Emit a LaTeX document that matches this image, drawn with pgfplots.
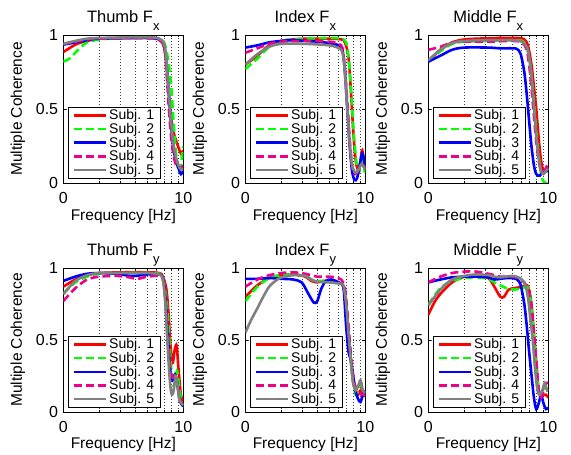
\documentclass[border=0pt]{standalone}
\usepackage{fontspec}
\setmainfont{Liberation Sans}
\usepackage{pgfplots}
\pgfplotsset{compat=1.18}

\newcommand{\sub}[1]{\raisebox{-7.5pt}{\fontsize{13}{13}\selectfont #1}}
\newcommand{\legsize}{\fontsize{14}{14}\selectfont}
\newcommand{\subjlegend}{\legend{{\legsize Subj. 1},{\legsize Subj. 2},{\legsize Subj. 3},{\legsize Subj. 4},{\legsize Subj. 5}}}

\pgfplotsset{
  mcpanel/.style={
    scale only axis, width=120pt,
    xmin=1, xmax=10, ymin=0, ymax=1,
    xtick={1,10}, xticklabels={0,10}, minor xtick={2,3,4,5,6,7,8,9},
    ytick={0,0.5,1}, yticklabels={0,0.5,1},
    xminorgrids=true, ymajorgrids=true, xmajorgrids=false,
    minor grid style={black!75, line width=0.5pt, dash pattern=on 0.6pt off 2.4pt},
    major grid style={black!75, line width=0.5pt, dash pattern=on 0.6pt off 2.4pt},
    tick align=inside, major tick length=3pt, minor tick length=2pt,
    every tick/.style={black, line width=0.5pt},
    axis line style={black, line width=0.7pt},
    /pgf/number format/assume math mode=true,
    tick label style={font=\fontsize{16}{16}\selectfont},
    xticklabel style={anchor=north, inner sep=0pt, yshift=-9pt},
    yticklabel style={anchor=east, inner sep=0pt, xshift=-5pt},
    xlabel={Frequency [Hz]}, ylabel={Multiple Coherence},
    every axis x label/.style={at={(axis description cs:0.5,-0.228)}, anchor=center, font=\fontsize{15.5}{16}\selectfont},
    every axis y label/.style={at={(axis description cs:-0.379,0.5)}, rotate=90, anchor=center, font=\fontsize{15.5}{16}\selectfont},
    every axis title/.style={at={(axis description cs:0.5,1)}, anchor=base, yshift=12pt, font=\fontsize{16.5}{17}\selectfont},
    legend style={at={(0.042,0.033)}, anchor=south west, draw=black, line width=0.6pt,
      inner xsep=4pt, inner ysep=1pt, column sep=0pt,
      nodes={inner xsep=2pt, inner ysep=1pt}, cells={anchor=west}},
    legend image code/.code={\draw[#1] (0pt,0pt) -- (32pt,0pt);},
  },
  s1/.style={red, solid, line width=2.6pt, smooth, tension=0.5},
  s2/.style={green, dash pattern=on 8pt off 4pt, line width=2.6pt, smooth, tension=0.5},
  s3/.style={blue, solid, line width=2.6pt, smooth, tension=0.5},
  s4/.style={magenta, dash pattern=on 8pt off 4pt, line width=2.6pt, smooth, tension=0.5},
  s5/.style={black!50, solid, line width=2.6pt, smooth, tension=0.5},
}

\begin{document}
\begin{tikzpicture}
\useasboundingbox (0,0) rectangle (571pt,455pt);

% ---- Thumb Fx
\begin{semilogxaxis}[mcpanel, height=148pt, at={(63.3pt,272pt)}, anchor=south west,
  title={Thumb F\sub{x}}]
\addplot[s1] coordinates {(1,.885)(1.12,.91)(1.26,.935)(1.41,.95)(1.58,.96)(2.0,.975)(3.16,.98)(5.01,.98)(6.03,.975)(6.61,.955)(7.08,.88)(7.41,.7)(7.76,.5)(8.13,.38)(8.51,.31)(9.12,.24)(9.55,.2)(10,.22)};
\addplot[s2] coordinates {(1,.82)(1.12,.84)(1.26,.88)(1.41,.92)(1.58,.95)(2.0,.97)(3.16,.98)(5.01,.98)(6.31,.975)(6.92,.95)(7.41,.85)(7.94,.65)(8.32,.4)(8.71,.2)(9.12,.08)(9.55,.12)(10,.25)};
\addplot[s3] coordinates {(1,.935)(1.26,.95)(1.58,.965)(2.0,.975)(5.01,.98)(6.31,.97)(6.92,.93)(7.24,.8)(7.59,.6)(7.94,.38)(8.32,.22)(8.71,.15)(9.12,.1)(9.55,.06)(10,.08)};
\addplot[s4] coordinates {(1,.94)(1.26,.955)(1.58,.97)(2.0,.975)(5.01,.98)(6.31,.965)(6.92,.92)(7.24,.75)(7.59,.5)(7.94,.3)(8.32,.18)(8.71,.12)(9.12,.11)(9.55,.1)(10,.12)};
\addplot[s5] coordinates {(1,.94)(1.26,.96)(1.58,.975)(2.0,.98)(5.01,.985)(6.31,.975)(6.92,.94)(7.24,.82)(7.59,.6)(7.94,.4)(8.32,.25)(8.71,.17)(9.12,.12)(9.55,.09)(10,.1)};
\subjlegend
\end{semilogxaxis}

% ---- Index Fx
\begin{semilogxaxis}[mcpanel, height=148pt, at={(245.3pt,272pt)}, anchor=south west,
  title={Index F\sub{x}}]
\addplot[s1] coordinates {(1,.8)(1.26,.86)(1.58,.93)(2.0,.96)(2.51,.97)(3.16,.975)(5.01,.975)(6.31,.97)(6.76,.95)(7.24,.85)(7.59,.62)(7.94,.35)(8.32,.15)(8.71,.09)(9.12,.15)(9.44,.22)(10,.08)};
\addplot[s2] coordinates {(1,.77)(1.26,.84)(1.58,.92)(2.0,.96)(2.51,.97)(3.16,.975)(5.01,.98)(6.31,.975)(6.92,.95)(7.24,.85)(7.59,.65)(7.94,.38)(8.32,.18)(8.71,.07)(9.12,.1)(9.55,.16)(10,.04)};
\addplot[s3] coordinates {(1,.915)(1.26,.93)(1.58,.95)(2.0,.96)(2.51,.965)(3.16,.96)(3.98,.955)(5.01,.945)(6.03,.93)(6.46,.9)(6.76,.75)(7.08,.5)(7.41,.25)(7.76,.08)(8.13,.02)(8.51,.03)(8.91,.1)(9.44,.2)(10,.1)};
\addplot[s4] coordinates {(1,.88)(1.26,.91)(1.58,.94)(2.0,.955)(3.16,.96)(5.01,.955)(6.03,.94)(6.46,.91)(6.76,.78)(7.08,.55)(7.41,.3)(7.76,.12)(8.13,.06)(8.71,.08)(9.33,.12)(10,.1)};
\addplot[s5] coordinates {(1,.8)(1.26,.87)(1.58,.92)(2.0,.94)(3.16,.94)(5.01,.93)(6.03,.91)(6.46,.88)(6.76,.75)(7.08,.5)(7.41,.27)(7.76,.12)(8.32,.07)(8.91,.1)(9.33,.13)(10,.09)};
\subjlegend
\end{semilogxaxis}

% ---- Middle Fx
\begin{semilogxaxis}[mcpanel, height=148pt, at={(428.3pt,272pt)}, anchor=south west,
  title={Middle F\sub{x}}]
\addplot[s1] coordinates {(1,.82)(1.12,.86)(1.26,.9)(1.58,.95)(2.0,.97)(2.51,.975)(3.98,.98)(5.62,.98)(6.31,.97)(6.76,.93)(7.24,.8)(7.59,.65)(7.94,.5)(8.32,.3)(8.71,.15)(9.12,.08)(9.55,.08)(10,.1)};
\addplot[s2] coordinates {(1,.82)(1.26,.89)(1.58,.94)(2.0,.955)(3.16,.96)(5.01,.965)(6.03,.96)(6.61,.92)(7.08,.8)(7.59,.55)(7.94,.35)(8.32,.18)(8.71,.06)(9.12,.01)(9.55,0)(10,0)};
\addplot[s3] coordinates {(1,.82)(1.26,.86)(1.58,.9)(2.0,.915)(3.16,.915)(3.98,.91)(5.01,.91)(5.5,.905)(5.89,.87)(6.31,.75)(6.61,.6)(6.92,.42)(7.24,.25)(7.59,.12)(7.94,.06)(8.51,.05)(9.12,.08)(10,.08)};
\addplot[s4] coordinates {(1,.9)(1.26,.92)(1.58,.95)(2.0,.955)(3.16,.955)(5.01,.96)(6.03,.95)(6.61,.9)(6.92,.8)(7.24,.65)(7.59,.45)(7.94,.28)(8.32,.15)(8.71,.08)(9.12,.08)(9.55,.1)(10,.14)};
\addplot[s5] coordinates {(1,.83)(1.26,.9)(1.58,.945)(2.0,.96)(3.16,.965)(5.01,.965)(6.03,.955)(6.61,.92)(6.92,.85)(7.24,.72)(7.59,.52)(7.94,.32)(8.32,.17)(8.71,.08)(9.12,.06)(9.55,.08)(10,.1)};
\subjlegend
\end{semilogxaxis}

% ---- Thumb Fy
\begin{semilogxaxis}[mcpanel, height=144pt, at={(63.3pt,43pt)}, anchor=south west,
  title={Thumb F\sub{y}}]
\addplot[s1] coordinates {(1,.87)(1.26,.92)(1.58,.95)(2.0,.965)(3.16,.97)(5.01,.97)(6.31,.965)(6.76,.94)(7.24,.85)(7.59,.65)(7.76,.5)(8.13,.34)(8.51,.44)(8.81,.46)(9.12,.3)(9.55,.12)(10,.07)};
\addplot[s2] coordinates {(1,.82)(1.26,.9)(1.58,.94)(2.0,.96)(3.16,.965)(5.01,.965)(6.31,.96)(6.76,.93)(7.24,.78)(7.59,.55)(7.94,.3)(8.32,.18)(8.71,.26)(8.91,.28)(9.33,.15)(9.77,.05)(10,.05)};
\addplot[s3] coordinates {(1,.91)(1.26,.94)(1.58,.96)(2.0,.965)(2.82,.96)(3.55,.945)(3.98,.945)(5.01,.955)(6.31,.955)(6.76,.93)(7.08,.8)(7.41,.55)(7.76,.3)(8.13,.22)(8.51,.26)(8.91,.2)(9.33,.08)(10,.04)};
\addplot[s4] coordinates {(1,.77)(1.26,.86)(1.58,.92)(2.0,.94)(2.82,.945)(3.55,.935)(4.17,.925)(5.01,.94)(6.31,.945)(6.76,.92)(7.08,.78)(7.41,.52)(7.76,.3)(8.13,.24)(8.51,.27)(8.91,.2)(9.33,.08)(10,.05)};
\addplot[s5] coordinates {(1,.82)(1.26,.91)(1.58,.95)(2.0,.965)(3.16,.965)(5.01,.965)(6.31,.955)(6.76,.92)(7.08,.75)(7.41,.45)(7.76,.2)(8.04,.12)(8.32,.15)(8.61,.25)(8.91,.2)(9.33,.08)(10,.05)};
\subjlegend
\end{semilogxaxis}

% ---- Index Fy
\begin{semilogxaxis}[mcpanel, height=144pt, at={(245.3pt,43pt)}, anchor=south west,
  title={Index F\sub{y}}]
\addplot[s1] coordinates {(1,.8)(1.12,.84)(1.26,.88)(1.58,.93)(2.0,.95)(2.51,.955)(3.16,.94)(3.55,.91)(3.98,.9)(4.47,.91)(5.01,.91)(5.62,.9)(6.31,.89)(6.61,.86)(6.92,.75)(7.24,.55)(7.59,.35)(7.94,.2)(8.32,.15)(8.71,.12)(9.12,.15)(9.55,.12)(10,.11)};
\addplot[s2] coordinates {(1,.77)(1.12,.82)(1.26,.87)(1.58,.93)(2.0,.95)(2.51,.955)(3.16,.945)(3.55,.92)(3.98,.91)(4.47,.91)(5.01,.9)(6.31,.89)(6.61,.86)(6.92,.74)(7.24,.55)(7.59,.35)(7.94,.2)(8.32,.12)(8.71,.15)(9.12,.2)(9.55,.15)(10,.14)};
\addplot[s3] coordinates {(1,.925)(1.26,.925)(1.58,.93)(2.0,.925)(2.51,.92)(2.95,.9)(3.31,.83)(3.72,.76)(3.98,.77)(4.27,.85)(4.68,.91)(5.25,.92)(6.03,.9)(6.31,.89)(6.61,.85)(6.92,.6)(7.24,.42)(7.59,.36)(7.94,.25)(8.32,.14)(8.71,.09)(9.12,.07)(9.55,.12)(10,.15)};
\addplot[s4] coordinates {(1,.87)(1.26,.92)(1.58,.95)(2.0,.965)(2.51,.97)(3.16,.96)(3.98,.94)(5.01,.94)(5.62,.935)(6.31,.92)(6.76,.86)(7.08,.7)(7.41,.5)(7.76,.3)(8.13,.2)(8.51,.15)(8.91,.13)(9.33,.12)(10,.12)};
\addplot[s5] coordinates {(1,.55)(1.12,.64)(1.26,.72)(1.41,.8)(1.58,.87)(1.78,.91)(2.0,.935)(2.51,.95)(3.16,.945)(3.55,.92)(3.98,.905)(5.01,.9)(6.31,.89)(6.61,.87)(6.92,.75)(7.24,.55)(7.59,.35)(7.94,.2)(8.32,.15)(8.71,.18)(9.12,.22)(9.55,.15)(10,.13)};
\subjlegend
\end{semilogxaxis}

% ---- Middle Fy
\begin{semilogxaxis}[mcpanel, height=144pt, at={(428.3pt,43pt)}, anchor=south west,
  title={Middle F\sub{y}}]
\addplot[s1] coordinates {(1,.675)(1.12,.76)(1.26,.82)(1.58,.9)(2.0,.94)(2.51,.95)(3.16,.93)(3.55,.87)(3.98,.8)(4.27,.8)(4.68,.85)(5.25,.86)(6.03,.87)(6.61,.88)(6.92,.85)(7.24,.75)(7.59,.55)(7.94,.35)(8.32,.15)(8.71,.1)(9.12,.12)(9.55,.12)(10,.1)};
\addplot[s2] coordinates {(1,.745)(1.26,.86)(1.58,.91)(2.0,.93)(2.51,.935)(3.16,.925)(3.55,.9)(3.98,.88)(4.47,.86)(5.25,.85)(6.03,.86)(6.61,.87)(6.92,.84)(7.24,.72)(7.59,.5)(7.94,.3)(8.32,.15)(8.71,.12)(9.12,.15)(9.55,.2)(10,.22)};
\addplot[s3] coordinates {(1,.9)(1.26,.92)(1.58,.935)(2.0,.94)(2.51,.94)(3.16,.935)(3.55,.92)(3.98,.925)(4.47,.93)(5.01,.93)(5.5,.92)(5.89,.88)(6.31,.75)(6.61,.6)(6.92,.42)(7.24,.26)(7.59,.1)(7.94,.02)(8.32,.06)(8.71,.12)(9.12,.06)(9.55,.02)(10,.03)};
\addplot[s4] coordinates {(1,.9)(1.26,.94)(1.58,.965)(2.0,.975)(2.51,.975)(3.16,.96)(3.55,.95)(3.98,.94)(5.01,.94)(5.62,.93)(6.31,.9)(6.92,.82)(7.24,.72)(7.59,.55)(7.94,.35)(8.32,.15)(8.71,.1)(9.12,.15)(9.55,.2)(10,.2)};
\addplot[s5] coordinates {(1,.74)(1.26,.85)(1.58,.92)(2.0,.945)(2.51,.955)(3.16,.95)(3.55,.94)(3.98,.935)(4.47,.94)(5.01,.945)(5.62,.935)(6.31,.9)(6.76,.8)(7.08,.65)(7.41,.5)(7.76,.3)(8.13,.15)(8.51,.12)(8.91,.15)(9.33,.2)(9.77,.15)(10,.16)};
\subjlegend
\end{semilogxaxis}
\end{tikzpicture}
\end{document}
